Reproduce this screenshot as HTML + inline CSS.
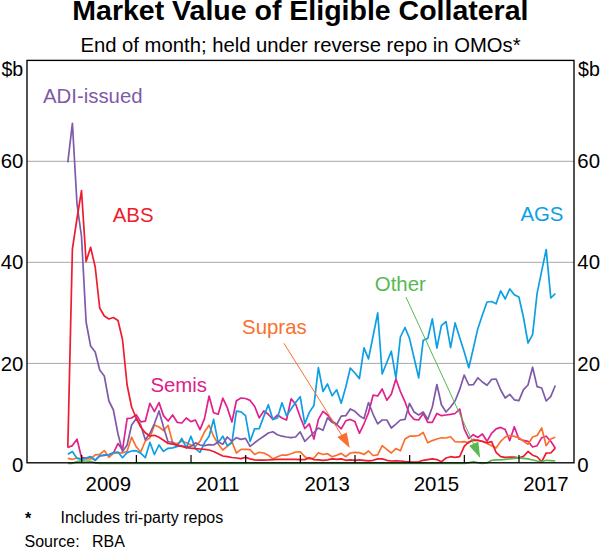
<!DOCTYPE html>
<html><head><meta charset="utf-8"><title>Market Value of Eligible Collateral</title>
<style>
html,body{margin:0;padding:0;background:#fff;}
body{width:600px;height:547px;overflow:hidden;}
svg{display:block;font-family:"Liberation Sans",Arial,sans-serif;}
</style></head><body>
<svg width="600" height="547" viewBox="0 0 600 547">
<rect width="600" height="547" fill="#fff"/>
<g stroke="#a8a8a8" stroke-width="1">
<line x1="27.0" x2="574.0" y1="161.3" y2="161.3"/>
<line x1="27.0" x2="574.0" y1="262.3" y2="262.3"/>
<line x1="27.0" x2="574.0" y1="363.4" y2="363.4"/>
</g>
<g fill="none" stroke-width="1.7" stroke-linejoin="round" stroke-linecap="butt">
<path d="M67.8,447.5 L72.4,445.6 L77.0,439.2 L81.5,457.5 L86.1,458.2 L90.6,456.9 L95.2,460.5 L99.7,456.0 L104.3,455.3 L108.9,454.9 L113.4,453.0 L118.0,443.6 L122.5,450.0 L127.1,418.7 L131.6,418.0 L136.2,414.8 L140.7,421.9 L145.3,421.2 L149.9,403.3 L154.4,411.6 L159.0,402.6 L163.5,415.6 L168.1,421.0 L172.6,415.0 L177.2,422.3 L181.8,423.0 L186.3,418.0 L190.9,421.6 L195.4,420.0 L200.0,429.6 L204.5,418.6 L209.1,396.0 L213.6,412.8 L218.2,414.3 L222.8,398.2 L227.3,407.7 L231.9,422.0 L236.4,400.7 L241.0,398.0 L245.5,398.5 L250.1,400.4 L254.6,406.2 L259.2,417.9 L263.8,411.0 L268.3,414.3 L272.9,419.4 L277.4,415.0 L282.0,418.0 L286.5,420.0 L291.1,398.9 L295.6,404.0 L300.2,417.0 L304.8,428.5 L309.3,423.8 L313.9,439.0 L318.4,419.4 L323.0,411.3 L327.5,415.0 L332.1,420.8 L336.7,424.5 L341.2,428.9 L345.8,420.8 L350.3,419.4 L354.9,421.6 L359.4,433.3 L364.0,423.8 L368.5,412.8 L373.1,395.2 L377.7,396.0 L382.2,389.0 L386.8,400.2 L391.3,394.3 L395.9,379.0 L400.4,391.5 L405.0,401.8 L409.5,414.3 L414.1,419.4 L418.7,420.0 L423.2,413.5 L427.8,422.3 L432.3,422.3 L436.9,413.5 L441.4,415.7 L446.0,415.0 L450.6,414.3 L455.1,413.5 L459.7,409.0 L464.2,428.9 L468.8,438.4 L473.3,434.7 L477.9,437.4 L482.4,434.0 L487.0,441.3 L491.6,433.3 L496.1,428.9 L500.7,427.4 L505.2,429.6 L509.8,440.6 L514.3,426.7 L518.9,439.0 L523.5,440.3 L528.0,441.3 L532.6,447.0 L537.1,445.7 L541.7,437.7 L546.2,436.2 L550.8,441.3 L555.3,448.2" stroke="#e0208c"/>
<path d="M67.8,458.4 L72.4,459.3 L77.0,458.0 L81.5,458.9 L86.1,459.0 L90.6,459.0 L95.2,454.8 L99.7,454.3 L104.3,450.6 L108.9,457.3 L113.4,453.3 L118.0,452.6 L122.5,453.0 L127.1,451.3 L131.6,437.2 L136.2,446.8 L140.7,452.0 L145.3,441.0 L149.9,437.9 L154.4,425.0 L159.0,427.0 L163.5,430.5 L168.1,425.4 L172.6,442.8 L177.2,443.5 L181.8,441.3 L186.3,442.8 L190.9,445.0 L195.4,446.4 L200.0,441.3 L204.5,431.8 L209.1,425.2 L213.6,436.2 L218.2,444.2 L222.8,450.0 L227.3,446.4 L231.9,441.6 L236.4,453.0 L241.0,449.4 L245.5,449.4 L250.1,449.6 L254.6,454.5 L259.2,452.3 L263.8,453.0 L268.3,455.2 L272.9,458.9 L277.4,456.7 L282.0,455.0 L286.5,455.2 L291.1,453.7 L295.6,452.0 L300.2,451.8 L304.8,456.7 L309.3,458.9 L313.9,458.0 L318.4,452.7 L323.0,454.5 L327.5,453.7 L332.1,456.7 L336.7,455.2 L341.2,453.4 L345.8,456.7 L350.3,453.0 L354.9,452.3 L359.4,452.6 L364.0,454.5 L368.5,451.0 L373.1,455.5 L377.7,454.8 L382.2,445.6 L386.8,449.4 L391.3,453.0 L395.9,448.6 L400.4,450.8 L405.0,439.0 L409.5,436.2 L414.1,436.2 L418.7,435.5 L423.2,432.5 L427.8,442.8 L432.3,440.6 L436.9,439.0 L441.4,437.8 L446.0,438.0 L450.6,436.7 L455.1,441.7 L459.7,442.0 L464.2,441.7 L468.8,442.8 L473.3,439.4 L477.9,440.3 L482.4,441.5 L487.0,443.5 L491.6,445.7 L496.1,447.9 L500.7,441.3 L505.2,437.0 L509.8,435.5 L514.3,436.4 L518.9,437.8 L523.5,441.3 L528.0,444.2 L532.6,437.0 L537.1,435.5 L541.7,428.0 L546.2,445.7 L550.8,439.0 L555.3,437.2" stroke="#f9702d"/>
<path d="M67.8,454.3 L72.4,451.6 L77.0,458.4 L81.5,459.3 L86.1,458.0 L90.6,456.6 L95.2,460.2 L99.7,455.7 L104.3,455.0 L108.9,454.6 L113.4,452.6 L118.0,452.0 L122.5,457.7 L127.1,452.6 L131.6,451.0 L136.2,450.7 L140.7,453.2 L145.3,457.7 L149.9,442.4 L154.4,454.5 L159.0,445.0 L163.5,451.4 L168.1,448.3 L172.6,447.9 L177.2,446.4 L181.8,438.4 L186.3,447.9 L190.9,436.2 L195.4,448.6 L200.0,452.3 L204.5,442.8 L209.1,436.2 L213.6,419.4 L218.2,442.8 L222.8,436.2 L227.3,445.7 L231.9,442.7 L236.4,411.2 L241.0,411.9 L245.5,415.7 L250.1,441.3 L254.6,428.9 L259.2,428.6 L263.8,416.4 L268.3,404.7 L272.9,419.4 L277.4,417.9 L282.0,402.8 L286.5,415.7 L291.1,409.0 L295.6,402.5 L300.2,396.7 L304.8,423.8 L309.3,412.4 L313.9,405.5 L318.4,367.6 L323.0,391.5 L327.5,384.0 L332.1,395.7 L336.7,389.8 L341.2,403.3 L345.8,387.0 L350.3,368.0 L354.9,373.0 L359.4,378.6 L364.0,347.9 L368.5,358.9 L373.1,336.0 L377.7,312.8 L382.2,374.0 L386.8,362.5 L391.3,351.2 L395.9,378.2 L400.4,337.0 L405.0,327.5 L409.5,338.4 L414.1,358.0 L418.7,377.8 L423.2,340.3 L427.8,338.4 L432.3,318.9 L436.9,348.0 L441.4,325.6 L446.0,321.6 L450.6,347.6 L455.1,322.9 L459.7,337.7 L464.2,351.8 L468.8,367.7 L473.3,348.5 L477.9,328.4 L482.4,315.1 L487.0,302.0 L491.6,301.5 L496.1,303.8 L500.7,290.9 L505.2,299.0 L509.8,288.9 L514.3,294.7 L518.9,297.0 L523.5,317.5 L528.0,343.0 L532.6,334.6 L537.1,293.3 L541.7,270.8 L546.2,249.5 L550.8,298.0 L555.3,293.7" stroke="#0d9fe4"/>
<path d="M67.8,162.4 L72.4,123.3 L77.0,204.0 L81.5,236.5 L86.1,322.0 L90.6,346.0 L95.2,352.0 L99.7,370.0 L104.3,376.0 L108.9,401.0 L113.4,410.0 L118.0,434.0 L122.5,451.5 L127.1,445.0 L131.6,425.0 L136.2,418.7 L140.7,425.0 L145.3,439.8 L149.9,433.4 L154.4,423.8 L159.0,411.0 L163.5,427.0 L168.1,442.0 L172.6,442.0 L177.2,446.4 L181.8,445.7 L186.3,447.0 L190.9,446.4 L195.4,442.8 L200.0,445.0 L204.5,445.7 L209.1,444.7 L213.6,445.0 L218.2,442.0 L222.8,444.2 L227.3,437.0 L231.9,441.3 L236.4,437.7 L241.0,439.4 L245.5,438.4 L250.1,446.4 L254.6,442.8 L259.2,439.4 L263.8,436.2 L268.3,433.0 L272.9,431.8 L277.4,434.7 L282.0,436.2 L286.5,437.0 L291.1,437.7 L295.6,437.0 L300.2,431.8 L304.8,441.3 L309.3,437.0 L313.9,432.5 L318.4,428.0 L323.0,430.3 L327.5,417.9 L332.1,422.3 L336.7,424.5 L341.2,416.2 L345.8,415.7 L350.3,409.0 L354.9,411.3 L359.4,415.7 L364.0,418.6 L368.5,402.5 L373.1,414.3 L377.7,423.8 L382.2,420.0 L386.8,420.0 L391.3,428.0 L395.9,424.2 L400.4,420.0 L405.0,419.4 L409.5,403.3 L414.1,412.0 L418.7,415.0 L423.2,412.0 L427.8,419.4 L432.3,407.0 L436.9,384.5 L441.4,404.7 L446.0,412.0 L450.6,407.0 L455.1,401.0 L459.7,389.4 L464.2,375.0 L468.8,385.0 L473.3,384.7 L477.9,377.8 L482.4,382.0 L487.0,385.3 L491.6,379.4 L496.1,379.0 L500.7,390.0 L505.2,398.0 L509.8,394.4 L514.3,399.8 L518.9,400.7 L523.5,389.7 L528.0,385.0 L532.6,367.2 L537.1,386.6 L541.7,388.0 L546.2,401.0 L550.8,396.3 L555.3,385.5" stroke="#7f5aa9"/>
<path d="M67.8,447.5 L72.4,249.0 L77.0,218.5 L81.5,190.6 L86.1,261.6 L90.6,247.3 L95.2,267.0 L99.7,308.0 L104.3,316.0 L108.9,319.0 L113.4,317.5 L118.0,320.5 L122.5,339.5 L127.1,385.0 L131.6,407.0 L136.2,418.0 L140.7,427.0 L145.3,432.7 L149.9,436.0 L154.4,435.3 L159.0,437.2 L163.5,440.2 L168.1,443.5 L172.6,444.2 L177.2,445.0 L181.8,446.4 L186.3,447.6 L190.9,448.2 L195.4,448.6 L200.0,449.0 L204.5,449.4 L209.1,450.0 L213.6,451.5 L218.2,453.7 L222.8,456.0 L227.3,456.7 L231.9,457.5 L236.4,458.0 L241.0,458.6 L245.5,457.4 L250.1,458.9 L254.6,459.9 L259.2,460.2 L263.8,460.2 L268.3,460.0 L272.9,459.6 L277.4,459.3 L282.0,459.4 L286.5,459.4 L291.1,459.4 L295.6,459.4 L300.2,459.6 L304.8,459.6 L309.3,457.8 L313.9,459.6 L318.4,459.9 L323.0,460.3 L327.5,459.9 L332.1,458.9 L336.7,459.3 L341.2,458.9 L345.8,460.3 L350.3,459.9 L354.9,460.3 L359.4,459.9 L364.0,460.3 L368.5,460.8 L373.1,460.3 L377.7,458.9 L382.2,458.9 L386.8,460.3 L391.3,461.0 L395.9,460.8 L400.4,461.0 L405.0,461.5 L409.5,461.8 L414.1,462.0 L418.7,461.8 L423.2,460.3 L427.8,459.6 L432.3,458.9 L436.9,459.6 L441.4,461.8 L446.0,458.0 L450.6,456.7 L455.1,457.4 L459.7,456.7 L464.2,446.4 L468.8,442.0 L473.3,440.3 L477.9,440.3 L482.4,441.3 L487.0,442.8 L491.6,441.7 L496.1,452.3 L500.7,456.7 L505.2,457.4 L509.8,457.0 L514.3,457.2 L518.9,457.9 L523.5,456.4 L528.0,451.5 L532.6,455.2 L537.1,456.7 L541.7,461.8 L546.2,453.0 L550.8,453.0 L555.3,448.2" stroke="#ed1c2e"/>
</g>
<g stroke-width="1" fill="none">
<line x1="283.9" y1="343.3" x2="344" y2="438.9" stroke="#f9702d"/>
<line x1="406" y1="297.2" x2="475.5" y2="448" stroke="#56b952"/>
</g>
<polygon points="349.7,447.9 337.3,436.9 346.8,432.5" fill="#f9702d"/>
<polygon points="480.2,458.1 469.2,445.7 478.3,441.7" fill="#56b952"/>
<path d="M67.8,463.5 L72.4,463.3 L77.0,461.6 L81.5,460.9 L86.1,461.0 L90.6,461.3 L95.2,463.0 L99.7,463.5 L104.3,463.5 L108.9,463.5 L113.4,463.5 L118.0,463.5 L122.5,463.5 L127.1,463.5 L131.6,463.5 L136.2,463.5 L140.7,463.5 L145.3,463.5 L149.9,463.5 L154.4,463.5 L159.0,463.5 L163.5,463.5 L168.1,463.5 L172.6,463.5 L177.2,463.5 L181.8,463.5 L186.3,463.5 L190.9,463.5 L195.4,463.5 L200.0,463.5 L204.5,463.5 L209.1,463.5 L213.6,463.5 L218.2,463.5 L222.8,463.5 L227.3,463.5 L231.9,463.5 L236.4,463.5 L241.0,463.5 L245.5,463.5 L250.1,463.5 L254.6,463.5 L259.2,463.5 L263.8,463.5 L268.3,463.5 L272.9,463.5 L277.4,463.5 L282.0,463.5 L286.5,463.5 L291.1,463.5 L295.6,463.5 L300.2,463.5 L304.8,463.5 L309.3,463.5 L313.9,463.5 L318.4,463.5 L323.0,463.5 L327.5,463.5 L332.1,463.5 L336.7,463.5 L341.2,463.5 L345.8,463.5 L350.3,463.5 L354.9,463.5 L359.4,463.5 L364.0,463.5 L368.5,463.5 L373.1,463.5 L377.7,463.5 L382.2,463.5 L386.8,463.5 L391.3,463.5 L395.9,463.5 L400.4,463.5 L405.0,463.5 L409.5,463.5 L414.1,463.5 L418.7,463.5 L423.2,463.5 L427.8,463.5 L432.3,463.5 L436.9,463.5 L441.4,463.5 L446.0,463.5 L450.6,463.5 L455.1,463.5 L459.7,463.5 L464.2,463.5 L468.8,462.8 L473.3,461.6 L477.9,462.8 L482.4,463.5 L487.0,463.0 L491.6,460.3 L496.1,459.9 L500.7,459.9 L505.2,459.3 L509.8,458.9 L514.3,458.3 L518.9,457.8 L523.5,458.3 L528.0,458.9 L532.6,460.0 L537.1,461.0 L541.7,461.8 L546.2,460.3 L550.8,460.6 L555.3,461.0" stroke="#56b952" fill="none" stroke-width="1.7" stroke-linejoin="round"/>
<g stroke="#000" stroke-width="1.35" fill="none">
<rect x="27.0" y="60.4" width="547.0" height="402.40000000000003"/>
<path d="M81.71,462.8v-7.8M136.37,462.8v-7.8M191.03,462.8v-7.8M245.69,462.8v-7.8M300.35,462.8v-7.8M355.01,462.8v-7.8M409.67,462.8v-7.8M464.33,462.8v-7.8M518.99,462.8v-7.8" stroke-width="1.2"/>
</g>
<g font-size="20.4" fill="#000">
<text x="300.4" y="20.3" text-anchor="middle" font-size="28.5" font-weight="bold">Market Value of Eligible Collateral</text>
<text x="300.5" y="51.5" text-anchor="middle" font-size="20.26">End of month; held under reverse repo in OMOs*</text>
<g text-anchor="end">
<text x="23.2" y="75.5" font-size="19.6">$b</text>
<text x="23.4" y="168.4">60</text>
<text x="23.4" y="269.3">40</text>
<text x="23.4" y="370.5">20</text>
<text x="23.4" y="471.5">0</text>
</g>
<g text-anchor="start">
<text x="578" y="75.5" font-size="19.6">$b</text>
<text x="577.3" y="168.4">60</text>
<text x="577.3" y="269.3">40</text>
<text x="577.3" y="370.5">20</text>
<text x="577.3" y="471.5">0</text>
</g>
<g text-anchor="middle">
<text x="108.3" y="490.5">2009</text>
<text x="217.7" y="490.5">2011</text>
<text x="327.1" y="490.5">2013</text>
<text x="436.4" y="490.5">2015</text>
<text x="545.9" y="490.5">2017</text>
</g>
<text x="42.9" y="102.5" fill="#7f5aa9">ADI-issued</text>
<text x="112.7" y="221.7" fill="#ed1c2e">ABS</text>
<text x="520.4" y="220.6" fill="#0d9fe4">AGS</text>
<text x="150.4" y="391.6" fill="#e0208c">Semis</text>
<text x="242.1" y="333.5" fill="#f9702d">Supras</text>
<text x="374.8" y="290.7" fill="#56b952">Other</text>
</g>
<g font-size="16" fill="#000">
<text x="25" y="523.6" font-weight="bold">*</text>
<text x="60.5" y="522.6">Includes tri-party repos</text>
<text x="24.5" y="547">Source:</text>
<text x="92" y="547">RBA</text>
</g>
</svg>
</body></html>
